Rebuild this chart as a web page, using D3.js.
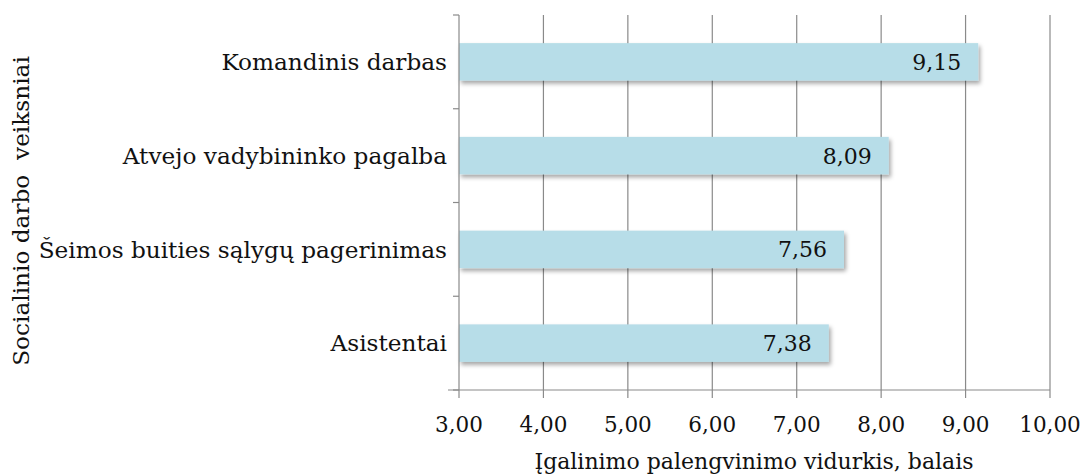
<!DOCTYPE html>
<html>
<head>
<meta charset="utf-8">
<script src="https://cdn.jsdelivr.net/npm/d3@7"></script>
<style>
  body { margin: 0; background: #fff; }
  text { font-family: "DejaVu Serif", "Liberation Serif", serif; fill: #111; }
</style>
</head>
<body>
<svg id="chart" width="1082" height="475"></svg>
<script>
// data
const categories = ["Komandinis darbas", "Atvejo vadybininko pagalba", "Šeimos buities sąlygų pagerinimas", "Asistentai"];
const values = [9.15, 8.09, 7.56, 7.38];
const valueLabels = ["9,15", "8,09", "7,56", "7,38"];
const xTicks = [3, 4, 5, 6, 7, 8, 9, 10];
const xTitle = "Įgalinimo palengvinimo vidurkis, balais";
const yTitle = "Socialinio darbo  veiksniai";

const svg = d3.select("#chart");
const margin = { top: 15, left: 459, right: 32, bottom: 85 };
const W = 1082, H = 475;
const gridColor = "#8a8a8a";

const x = d3.scaleLinear().domain([3, 10]).range([margin.left, W - margin.right]);
const y = d3.scaleBand().domain(categories).range([margin.top, H - margin.bottom]).paddingInner(0.6).paddingOuter(0.3);
const yEdges = d3.scaleLinear().domain([0, categories.length]).range([margin.top, H - margin.bottom]);

// shadow for the bars
svg.append("defs").append("filter")
    .attr("id", "shadow").attr("x", "-5%").attr("y", "-30%").attr("width", "110%").attr("height", "170%")
  .append("feDropShadow")
    .attr("dx", 2).attr("dy", 3).attr("stdDeviation", 2)
    .attr("flood-color", "#000").attr("flood-opacity", 0.35);

// vertical gridlines
svg.append("g").selectAll("line")
  .data(xTicks.slice(1)).join("line")
    .attr("x1", d => x(d)).attr("x2", d => x(d))
    .attr("y1", margin.top).attr("y2", H - margin.bottom)
    .attr("stroke", gridColor).attr("stroke-width", 1.2);

// bars
svg.append("g").selectAll("rect")
  .data(categories).join("rect")
    .attr("x", x(3))
    .attr("y", d => y(d))
    .attr("width", (d, i) => x(values[i]) - x(3))
    .attr("height", y.bandwidth())
    .attr("fill", "#b7dde8")
    .attr("filter", "url(#shadow)");

// value labels inside bars
svg.append("g").selectAll("text")
  .data(categories).join("text")
    .attr("x", (d, i) => x(values[i]) - 17)
    .attr("y", d => y(d) + y.bandwidth() / 2)
    .attr("dy", "0.36em")
    .attr("text-anchor", "end")
    .attr("font-size", 22)
    .text((d, i) => valueLabels[i]);

// y axis line + tick marks at category boundaries
const yAxis = svg.append("g");
yAxis.append("line")
    .attr("x1", x(3)).attr("x2", x(3))
    .attr("y1", margin.top).attr("y2", H - margin.bottom)
    .attr("stroke", gridColor).attr("stroke-width", 1.2);
yAxis.selectAll("line.tick")
  .data(d3.range(categories.length + 1)).join("line")
    .attr("class", "tick")
    .attr("x1", x(3) - 6).attr("x2", x(3))
    .attr("y1", d => yEdges(d)).attr("y2", d => yEdges(d))
    .attr("stroke", gridColor).attr("stroke-width", 1.2);
yAxis.selectAll("text")
  .data(categories).join("text")
    .attr("x", x(3) - 12)
    .attr("y", d => y(d) + y.bandwidth() / 2)
    .attr("dy", "0.36em")
    .attr("text-anchor", "end")
    .attr("font-size", 23.2)
    .text(d => d);

// x axis
const xAxis = svg.append("g");
xAxis.append("line")
    .attr("x1", x(3) - 11).attr("x2", x(10))
    .attr("y1", H - margin.bottom).attr("y2", H - margin.bottom)
    .attr("stroke", gridColor).attr("stroke-width", 1.2);
xAxis.selectAll("line.tick")
  .data(xTicks).join("line")
    .attr("class", "tick")
    .attr("x1", d => x(d)).attr("x2", d => x(d))
    .attr("y1", H - margin.bottom).attr("y2", H - margin.bottom + 8)
    .attr("stroke", gridColor).attr("stroke-width", 1.2);
xAxis.selectAll("text")
  .data(xTicks).join("text")
    .attr("x", d => x(d))
    .attr("y", H - margin.bottom + 42)
    .attr("text-anchor", "middle")
    .attr("font-size", 21.5)
    .text(d => d3.format(".2f")(d).replace(".", ","));

// axis titles
svg.append("text")
    .attr("x", 754)
    .attr("y", H - 6)
    .attr("text-anchor", "middle")
    .attr("font-size", 22)
    .text(xTitle);

svg.append("text")
    .attr("transform", `translate(29, 211) rotate(-90)`)
    .attr("text-anchor", "middle")
    .attr("font-size", 23.2)
    .attr("xml:space", "preserve")
    .style("white-space", "pre")
    .text(yTitle);
</script>
</body>
</html>
